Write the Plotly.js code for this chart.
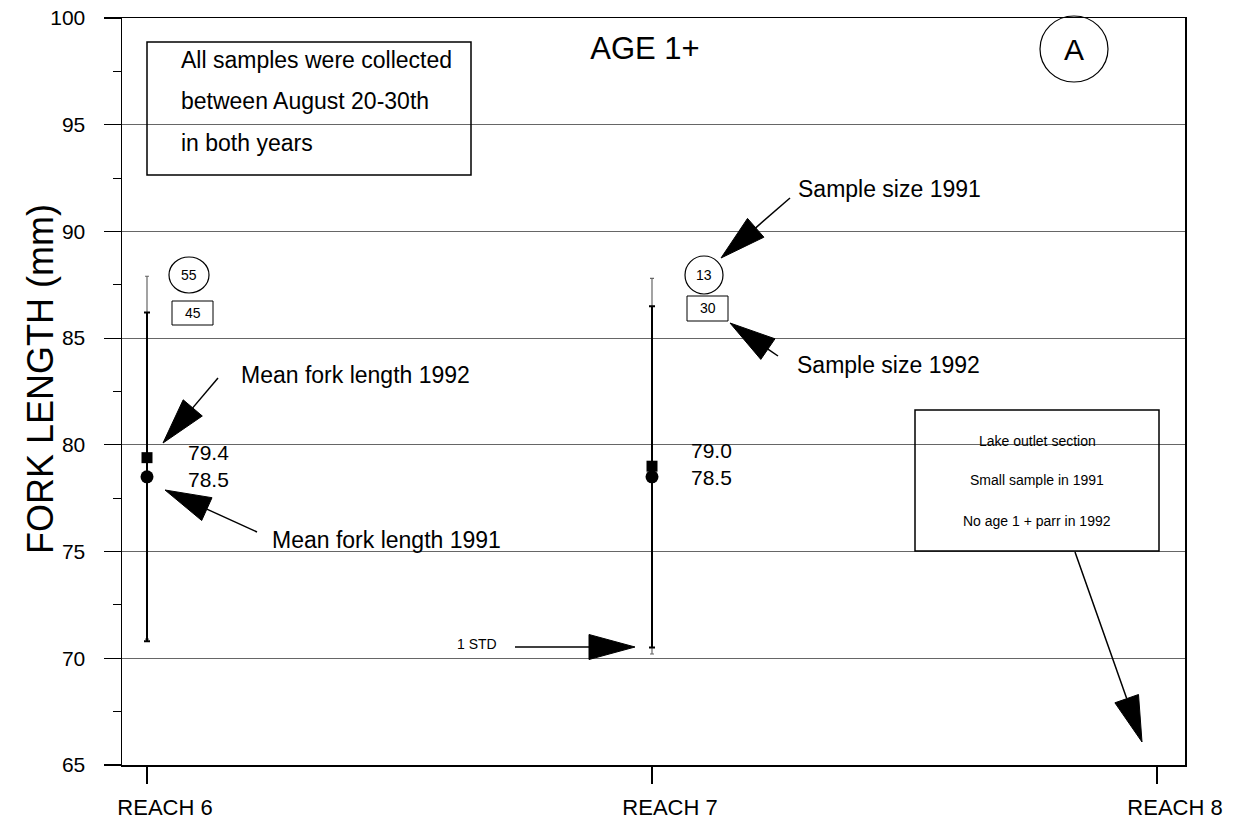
<!DOCTYPE html>
<html><head><meta charset="utf-8">
<script src="https://cdn.plot.ly/plotly-3.0.1.min.js"></script>
<style>html,body{margin:0;padding:0;background:#fff}</style>
</head><body><div id="chart" style="width:1234px;height:827px"></div>
<script>
// ---- data ----
const reaches = ['REACH 6', 'REACH 7', 'REACH 8'];
const mean1991 = [78.5, 78.5, null];
const mean1992 = [79.4, 79.0, null];
const std1991 = [7.7, 8.0, null];
const std1992 = [8.5, 8.8, null];
const n1991 = [55, 13, null];
const n1992 = [45, 30, null];
const yTickStep = 5;
const yRange = [65, 100];

// ---- layout helpers (pixel geometry of plot area) ----
const PL = 122, PR = 1185, PT = 18, PB = 765;
const px = x => (x - PL) / (PR - PL);
const py = y => (PB - y) / (PB - PT);
const FONT = 'Liberation Sans, Arial, Helvetica, sans-serif';

const traces = [
  {
    x: reaches, y: mean1992, type: 'scatter', mode: 'markers', name: '1992',
    marker: {symbol: 'square', size: 11, color: '#000'},
    error_y: {type: 'data', array: std1992, visible: true, color: '#666', thickness: 1.2, width: 2},
    hoverinfo: 'x+y'
  },
  {
    x: reaches, y: mean1991, type: 'scatter', mode: 'markers', name: '1991',
    marker: {symbol: 'circle', size: 13, color: '#000'},
    error_y: {type: 'data', array: std1991, visible: true, color: '#000', thickness: 2, width: 3},
    hoverinfo: 'x+y'
  }
];

const shapes = [];
const annotations = [];

function txt(text, x, y, size, opts) {
  annotations.push(Object.assign({
    text: text, xref: 'paper', yref: 'paper', x: px(x), y: py(y),
    xanchor: 'left', yanchor: 'middle', showarrow: false,
    font: {family: FONT, size: size, color: '#000'}
  }, opts || {}));
}

function arrow(t, h) {
  const dx = h[0] - t[0], dy = h[1] - t[1], len = Math.hypot(dx, dy);
  const ux = dx / len, uy = dy / len;
  const L = 46, W = 25;
  const bx = h[0] - ux * L, by = h[1] - uy * L;
  shapes.push({type: 'line', xref: 'paper', yref: 'paper',
    x0: px(t[0]), y0: py(t[1]), x1: px(bx), y1: py(by),
    line: {color: '#000', width: 1.5}});
  const c1 = [-ux * L - uy * W / 2, -uy * L + ux * W / 2];
  const c2 = [-ux * L + uy * W / 2, -uy * L - ux * W / 2];
  const path = 'M 0 0 L ' + c1[0].toFixed(1) + ' ' + (-c1[1]).toFixed(1) +
               ' L ' + c2[0].toFixed(1) + ' ' + (-c2[1]).toFixed(1) + ' Z';
  shapes.push({type: 'path', xref: 'paper', yref: 'paper', xsizemode: 'pixel', ysizemode: 'pixel',
    xanchor: px(h[0]), yanchor: py(h[1]), path: path,
    fillcolor: '#000', line: {color: '#000', width: 1}});
}

function circle(cx, cy, rx, ry) {
  shapes.push({type: 'circle', xref: 'paper', yref: 'paper', xsizemode: 'pixel', ysizemode: 'pixel',
    xanchor: px(cx), yanchor: py(cy), x0: -rx, x1: rx, y0: -ry, y1: ry,
    line: {color: '#000', width: 1.2}});
}
function rect(x0, y0, x1, y1, w) {
  shapes.push({type: 'rect', xref: 'paper', yref: 'paper',
    x0: px(x0), x1: px(x1), y0: py(y1), y1: py(y0),
    line: {color: '#000', width: w || 1.2}});
}

// value labels next to means (1992 above, 1991 below)
const labelDx = [40, 38];
const labelDy = [1, 8];
for (let i = 0; i < reaches.length; i++) {
  if (mean1992[i] == null || mean1991[i] == null) continue;
  annotations.push({text: mean1992[i].toFixed(1) + '<br>' + mean1991[i].toFixed(1),
    x: reaches[i], y: (mean1992[i] + mean1991[i]) / 2,
    xref: 'x', yref: 'y', xanchor: 'left', yanchor: 'middle', align: 'left',
    xshift: labelDx[i], yshift: labelDy[i], borderpad: 0,
    showarrow: false, font: {family: FONT, size: 21, color: '#000'}});
}

// sample-size markers (circle = 1991, box = 1992)
const ssPos = [
  {cx: 189, cy: 275, rx: 20, ry: 18, bx0: 172, by0: 301, bx1: 213, by1: 325},
  {cx: 704, cy: 275, rx: 19, ry: 19, bx0: 687, by0: 296, bx1: 728, by1: 321}
];
ssPos.forEach((p, i) => {
  circle(p.cx, p.cy, p.rx, p.ry);
  txt(String(n1991[i]), p.cx, p.cy, 14, {xanchor: 'center'});
  rect(p.bx0, p.by0, p.bx1, p.by1, 1);
  txt(String(n1992[i]), (p.bx0 + p.bx1) / 2, (p.by0 + p.by1) / 2, 14, {xanchor: 'center'});
});

// info box top-left
rect(147, 42, 471, 175, 1.5);
txt('All samples were collected', 179, 60, 23);
txt('between August 20-30th', 179, 101, 23);
txt('in both years', 179, 143, 23);

// panel label
circle(1074, 49, 34, 33);
txt('A', 1074, 50, 30, {xanchor: 'center'});

// y-axis title
txt('FORK LENGTH (mm)', 40, 379, 36, {xanchor: 'center', textangle: -90});

// pointer texts and arrows
txt('Mean fork length 1992', 239, 375, 23);
arrow([218, 378], [163, 443]);
txt('Mean fork length 1991', 270, 540, 23);
arrow([257, 532], [165, 490]);
txt('Sample size 1991', 796, 189, 23);
arrow([790, 198], [721, 258]);
txt('Sample size 1992', 795, 365, 23);
arrow([778, 356], [730, 323]);
txt('1 STD', 455, 644, 14);
arrow([515, 647], [635, 647]);

// lake outlet box
rect(915, 410, 1159, 551, 1.5);
txt('Lake outlet section', 1037, 441, 14, {xanchor: 'center'});
txt('Small sample in 1991', 1037, 480, 14, {xanchor: 'center'});
txt('No age 1 + parr in 1992', 1037, 521, 14, {xanchor: 'center'});
arrow([1075, 552], [1142, 742]);

const layout = {
  width: 1234, height: 827,
  margin: {l: PL, r: 1234 - PR, t: PT, b: 827 - PB, pad: 0},
  paper_bgcolor: '#fff', plot_bgcolor: '#fff',
  showlegend: false,
  font: {family: FONT, color: '#000'},
  title: {text: 'AGE 1+', font: {family: FONT, size: 31, color: '#000'},
    xref: 'paper', x: px(645), xanchor: 'center', yref: 'container', y: 1 - 48 / 827, yanchor: 'middle'},
  xaxis: {
    type: 'category', range: [-25 / 505, 2 + 28 / 505],
    showline: true, linecolor: '#000', linewidth: 1.5, mirror: true,
    ticks: 'outside', ticklen: 17, tickwidth: 1.2, tickcolor: '#000',
    showgrid: false, zeroline: false,
    tickfont: {family: FONT, size: 22, color: '#000'}, ticklabelstandoff: 5, ticklabelshift: 18
  },
  yaxis: {
    range: yRange, tick0: yRange[0], dtick: yTickStep,
    showline: true, linecolor: '#000', linewidth: 1.5, mirror: true,
    ticks: 'outside', ticklen: 17, tickwidth: 1.2, tickcolor: '#000',
    showgrid: true, gridcolor: '#666', gridwidth: 1, zeroline: false,
    minor: {dtick: yTickStep / 2, ticks: 'outside', ticklen: 8, tickwidth: 1, tickcolor: '#000', showgrid: false},
    tickfont: {family: FONT, size: 21, color: '#000'}, ticklabelstandoff: 14
  },
  shapes: shapes,
  annotations: annotations
};

Plotly.newPlot('chart', traces, layout, {displayModeBar: false, staticPlot: true});
</script>
</body></html>
